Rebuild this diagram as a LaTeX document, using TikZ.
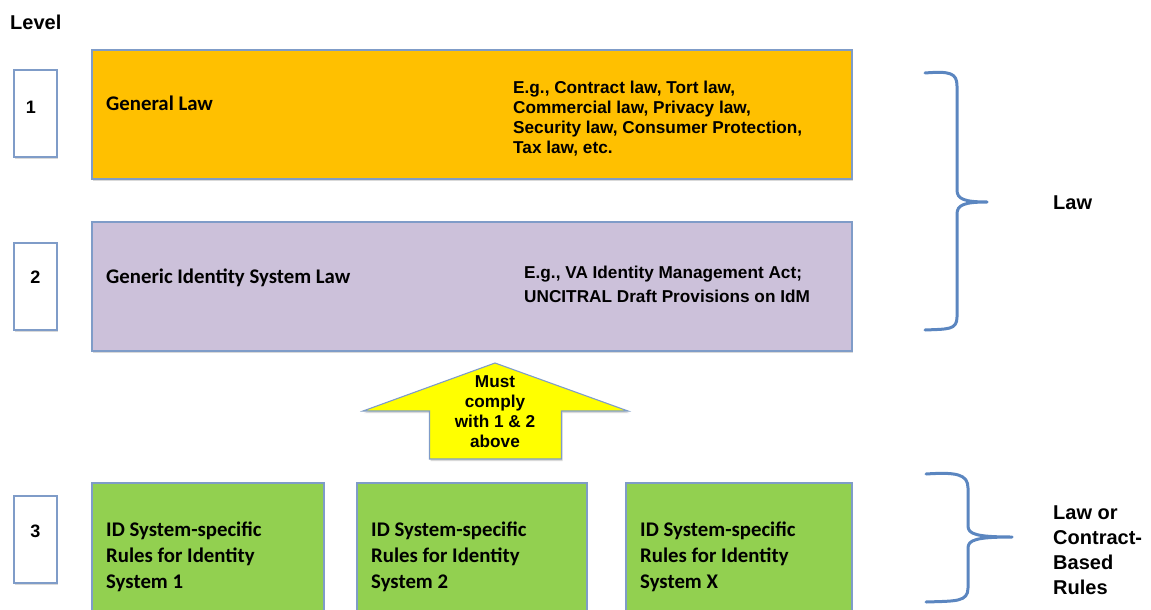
\documentclass[tikz,border=0pt]{standalone}
\usepackage{fontspec}
\setmainfont{Liberation Sans}
\newfontfamily\calibfont{Carlito}
\usetikzlibrary{shadows}
\definecolor{edgeblue}{HTML}{7F9CC8}
\definecolor{bracecol}{HTML}{5B86C0}
\definecolor{orangefill}{HTML}{FFC000}
\definecolor{purplefill}{HTML}{CCC1DA}
\definecolor{greenfill}{HTML}{92D050}
\definecolor{yellowfill}{HTML}{FFFF00}
\tikzset{
  shad/.style={drop shadow={shadow xshift=1.2pt, shadow yshift=-2pt, opacity=0.25, fill=black!60}},
  bigbox/.style={draw=edgeblue, line width=1.1pt, shad},
  numbox/.style={draw=edgeblue, line width=1.1pt, fill=white, shad},
  calibtxt/.style={font=\calibfont\bfseries\fontsize{20.8}{26}\selectfont, align=left, anchor=base west, inner sep=0pt},
  egtxt/.style={font=\bfseries\fontsize{17.2}{20}\selectfont, align=left, anchor=base west, inner sep=0pt},
  headtxt/.style={font=\bfseries\fontsize{20}{25}\selectfont, align=left, anchor=base west, inner sep=0pt},
  digit/.style={font=\bfseries\fontsize{18}{20}\selectfont, anchor=base, inner sep=0pt},
  bracestyle/.style={draw=bracecol, line width=3pt, line cap=round, line join=round},
}
\begin{document}
\begin{tikzpicture}[x=1pt, y=-1pt]
\useasboundingbox (0,0) rectangle (1151,610);
\begin{scope}
\clip (0,0) rectangle (1151,610);

% header
\node[headtxt] (level) at (10,30) {Level};

% level number boxes
\path[numbox] (14,70) rectangle (57,157);
\node[digit] (n1) at (31,113) {1};
\path[numbox] (14,243) rectangle (57,330);
\node[digit] (n2) at (35.5,283) {2};
\path[numbox] (14,496) rectangle (57,583);
\node[digit] (n3) at (35.5,537) {3};

% level 1
\path[bigbox, fill=orangefill] (92,50) rectangle (852,179);
\node[calibtxt] (gl) at (106,110.5) {General Law};
\node[egtxt] (eg1) at (513,153) {E.g., Contract law, Tort law,\\Commercial law, Privacy law,\\Security law, Consumer Protection,\\Tax law, etc.};

% level 2
\path[bigbox, fill=purplefill] (92,222) rectangle (852,351);
\node[calibtxt] (gisl) at (106,283) {Generic Identity System Law};
\node[egtxt, font=\bfseries\fontsize{17.2}{24}\selectfont] (eg2) at (524,302) {E.g., VA Identity Management Act;\\UNCITRAL Draft Provisions on IdM};

% arrow
\path[draw=edgeblue, line width=1.1pt, fill=yellowfill, shad]
  (495,363) -- (628,411) -- (561.5,411) -- (561.5,459) -- (429.5,459) -- (429.5,411) -- (363,411) -- cycle;
\node[font=\bfseries\fontsize{17.2}{20}\selectfont, align=center, anchor=base, inner sep=0pt] (must) at (495,447) {Must\\comply\\with 1 \& 2\\above};

% level 3
\path[bigbox, fill=greenfill] (92,483) rectangle (324,625);
\path[bigbox, fill=greenfill] (357,483) rectangle (587,625);
\path[bigbox, fill=greenfill] (626,483) rectangle (852,625);
\node[calibtxt] (r1) at (106,588) {ID System-specific\\Rules for Identity\\System 1};
\node[calibtxt] (r2) at (371,588) {ID System-specific\\Rules for Identity\\System 2};
\node[calibtxt] (rx) at (640,588) {ID System-specific\\Rules for Identity\\System X};

% braces
\path[bracestyle] (925,73) .. controls (950,71) and (957,73) .. (957,86) -- (957,190)
  .. controls (957,199) and (964,202) .. (987,202)
  .. controls (964,202) and (957,205) .. (957,214) -- (957,317)
  .. controls (957,330) and (948,329) .. (925,330);
\node[headtxt] (law) at (1053,209) {Law};

\path[bracestyle] (926,474) .. controls (956,472) and (968,474) .. (968,488) -- (968,526)
  .. controls (968,534) and (976,537) .. (1012,537)
  .. controls (976,537) and (968,540) .. (968,548) -- (968,588)
  .. controls (968,602) and (956,601) .. (926,602);
\node[headtxt] (lcr) at (1053,594) {Law or\\Contract-\\Based\\Rules};
\end{scope}
\end{tikzpicture}
\end{document}
